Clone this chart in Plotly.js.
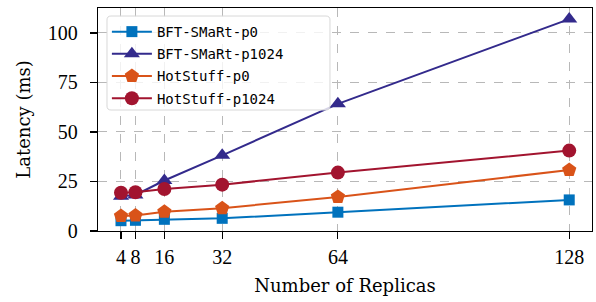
<!DOCTYPE html>
<html>
<head>
<meta charset="utf-8">
<script src="https://cdn.plot.ly/plotly-3.0.1.min.js"></script>
<style>html,body{margin:0;padding:0;background:#fff;}#chart{width:596px;height:302px;}</style>
</head>
<body>
<div id="chart"></div>
<script>
const replicas = [4, 8, 16, 32, 64, 128];
const seriesNames = ["BFT-SMaRt-p0", "BFT-SMaRt-p1024", "HotStuff-p0", "HotStuff-p1024"];
const bftP0 = [5.2, 5.4, 5.9, 6.4, 9.5, 15.7];
const bftP1024 = [17.5, 18.2, 25.5, 38.2, 64.2, 107.0];
const hotP0 = [7.6, 7.8, 9.7, 11.5, 17.2, 30.8];
const hotP1024 = [19.3, 19.6, 21.2, 23.4, 29.5, 40.6];
const xTicks = [4, 8, 16, 32, 64, 128];
const yTicks = [0, 25, 50, 75, 100];

const colors = ["#0072BD", "#332a8c", "#D95319", "#A2142F"];
const symbols = ["square", "triangle-up", "pentagon", "circle"];
const sizes = [11, 14, 15, 14];
const values = [bftP0, bftP1024, hotP0, hotP1024];

const traces = values.map((v, i) => ({
  x: replicas, y: v, name: seriesNames[i], type: "scatter", mode: "lines+markers",
  legendgroup: "g" + i,
  line: {color: colors[i], width: 2},
  marker: {symbol: symbols[i], size: sizes[i], color: colors[i], line: {width: 0}}
}));

// legend frame (rounded, semi-transparent) in paper coordinates
const fx0 = 0.0182, fx1 = 0.4696, fy0 = 0.5426, fy1 = 0.964, rx = 0.008, ry = 0.018;
const framePath = `M ${fx0 + rx},${fy0} L ${fx1 - rx},${fy0} Q ${fx1},${fy0} ${fx1},${fy0 + ry} ` +
  `L ${fx1},${fy1 - ry} Q ${fx1},${fy1} ${fx1 - rx},${fy1} L ${fx0 + rx},${fy1} Q ${fx0},${fy1} ${fx0},${fy1 - ry} ` +
  `L ${fx0},${fy0 + ry} Q ${fx0},${fy0} ${fx0 + rx},${fy0} Z`;

const serif = "Liberation Serif, DejaVu Serif, serif";
const titleSerif = "DejaVu Serif, Liberation Serif, serif";
const layout = {
  width: 596, height: 302,
  margin: {l: 98, r: 4, t: 8, b: 71},
  paper_bgcolor: "#fff", plot_bgcolor: "#fff",
  showlegend: true,
  legend: {
    x: 0.018, y: 0.964, xanchor: "left", yanchor: "top",
    bgcolor: "rgba(0,0,0,0)", borderwidth: 0,
    font: {family: "DejaVu Sans Mono, monospace", size: 14, color: "#000"},
    tracegroupgap: 1, itemwidth: 40
  },
  shapes: [{
    type: "path", xref: "paper", yref: "paper", path: framePath, layer: "above",
    fillcolor: "rgba(255,255,255,0.8)", line: {color: "#d8d8d8", width: 1}
  }],
  xaxis: {
    range: [-2.36, 134.3], tickvals: xTicks, ticktext: xTicks.map(String),
    showline: true, mirror: true, linecolor: "#000", linewidth: 1.3,
    ticks: "outside", ticklen: 7, tickwidth: 1.2, tickcolor: "#000",
    showgrid: true, gridcolor: "#b8b8b8", griddash: "dash", gridwidth: 1,
    zeroline: false, ticklabelstandoff: 1,
    tickfont: {family: serif, size: 20, color: "#000"},
    title: {text: "Number of Replicas", font: {family: titleSerif, size: 18, color: "#000"}, standoff: 12}
  },
  yaxis: {
    range: [0, 112.6], tickvals: yTicks, ticktext: yTicks.map(String),
    showline: true, mirror: true, linecolor: "#000", linewidth: 1.3,
    ticks: "outside", ticklen: 7, tickwidth: 1.2, tickcolor: "#000",
    showgrid: true, gridcolor: "#b8b8b8", griddash: "dash", gridwidth: 1,
    zeroline: false, ticklabelstandoff: 8,
    tickfont: {family: serif, size: 20, color: "#000"},
    title: {text: "Latency (ms)", font: {family: titleSerif, size: 18, color: "#000"}, standoff: 12}
  }
};

Plotly.newPlot("chart", traces, layout, {staticPlot: true, displayModeBar: false});
</script>
</body>
</html>
